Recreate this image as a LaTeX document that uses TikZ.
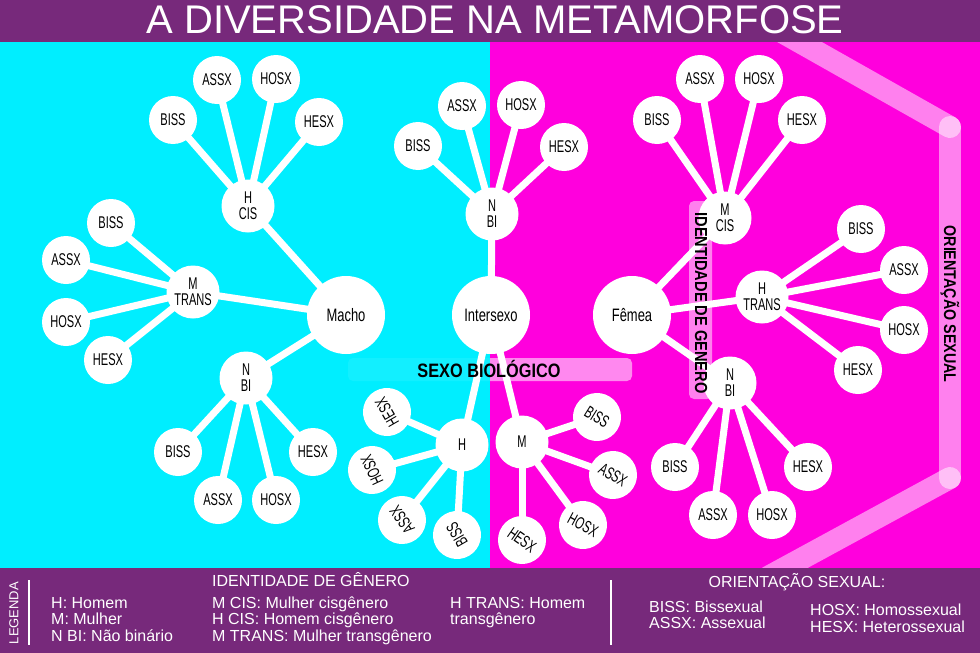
\documentclass[tikz,border=0pt]{standalone}
\usepackage{fontspec}
\setmainfont{Liberation Sans}
\newfontfamily\condf[FakeStretch=0.65]{Liberation Sans}
\newfontfamily\condbig[FakeStretch=0.72]{Liberation Sans}
\newfontfamily\boldc[FakeStretch=0.84]{Liberation Sans}
\definecolor{cy}{RGB}{0,238,255}
\definecolor{mg}{RGB}{255,0,221}
\definecolor{pu}{RGB}{119,41,123}
\pgfdeclarelayer{back}
\pgfdeclarelayer{links}
\pgfsetlayers{back,links,main}
\tikzset{
  leaf/.style={circle,fill=white,minimum size=48,inner sep=0,text=black,font=\condf\fontsize{17}{16}\selectfont},
  mid/.style={circle,fill=white,minimum size=53,inner sep=0,text=black,align=center,font=\condf\fontsize{17}{16}\selectfont},
  big/.style={circle,fill=white,minimum size=78,inner sep=0,text=black,font=\condbig\fontsize{18}{18}\selectfont},
  link/.style={white,line width=7},
  band/.style={white,opacity=0.5},
  bandtxt/.style={text=black,inner sep=0,font=\boldc\bfseries\fontsize{17.4}{18}\selectfont},
  leg/.style={text=white,anchor=base west,inner sep=0,font=\fontsize{16}{16}\selectfont},
  leghead/.style={text=white,anchor=base,inner sep=0,font=\fontsize{16}{16}\selectfont}
}
\begin{document}
\begin{tikzpicture}[x=1pt,y=-1pt]
\useasboundingbox (0,0) rectangle (980,653);
\begin{pgfonlayer}{back}
\fill[cy] (0,42) rectangle (490,568);
\fill[mg] (490,42) rectangle (980,568);
% orientation band
\draw[band,line width=22,line cap=round] (780,31) -- (950,127);
\draw[band,line width=22,line cap=round] (950,127) -- (950,478);
\draw[band,line width=22,line cap=round] (950,478) -- (768,577);
% identidade band
\fill[band,rounded corners=5] (689,201) rectangle (712,399);
% sexo biologico band
\fill[white,opacity=0.07,rounded corners=5] (348,358) rectangle (632,381);
\begin{scope}
\clip (490,0) rectangle (980,653);
\fill[band,rounded corners=5] (348,358) rectangle (632,381);
\end{scope}
\end{pgfonlayer}

% ---------- left cluster ----------
\node[big] (macho) at (346,315) {Macho};
\node[mid] (hcis) at (248,206) {H\\CIS};
\node[leaf] (hcisB) at (173,120) {BISS};
\node[leaf] (hcisA) at (217,80) {ASSX};
\node[leaf] (hcisO) at (276,79) {HOSX};
\node[leaf] (hcisE) at (319,122) {HESX};
\node[mid] (mtr) at (193,292) {M\\TRANS};
\node[leaf] (mtrB) at (111,223) {BISS};
\node[leaf] (mtrA) at (66,260) {ASSX};
\node[leaf] (mtrO) at (66,322) {HOSX};
\node[leaf] (mtrE) at (108,360) {HESX};
\node[mid] (nbiL) at (246,378) {N\\BI};
\node[leaf] (nbiLB) at (178,452) {BISS};
\node[leaf] (nbiLA) at (218,500) {ASSX};
\node[leaf] (nbiLO) at (276,500) {HOSX};
\node[leaf] (nbiLE) at (313,452) {HESX};

% ---------- center cluster ----------
\node[big] (inter) at (491,315) {Intersexo};
\node[mid] (nbiC) at (492,214) {N\\BI};
\node[leaf] (nbiCB) at (418,146) {BISS};
\node[leaf] (nbiCA) at (462,106) {ASSX};
\node[leaf] (nbiCO) at (521,105) {HOSX};
\node[leaf] (nbiCE) at (564,147) {HESX};
\node[mid] (hbot) at (462,445) {H};
\node[leaf,rotate=120] (hbE) at (387,412) {HESX};
\node[leaf,rotate=115] (hbO) at (372,470) {HOSX};
\node[leaf,rotate=125] (hbA) at (402,520) {ASSX};
\node[leaf,rotate=120] (hbB) at (457,535) {BISS};
\node[mid] (mbot) at (522,442) {M};
\node[leaf,rotate=-32] (mbB) at (597,417) {BISS};
\node[leaf,rotate=-32] (mbA) at (613,475) {ASSX};
\node[leaf,rotate=-28] (mbO) at (583,525) {HOSX};
\node[leaf,rotate=-35] (mbE) at (522,540) {HESX};

% ---------- right cluster ----------
\node[big] (femea) at (632,315) {Fêmea};
\node[mid] (mcis) at (725,218) {M\\CIS};
\node[leaf] (mcisB) at (657,120) {BISS};
\node[leaf] (mcisA) at (700,79) {ASSX};
\node[leaf] (mcisO) at (759,79) {HOSX};
\node[leaf] (mcisE) at (802,120) {HESX};
\node[mid] (htr) at (762,297) {H\\TRANS};
\node[leaf] (htrB) at (861,229) {BISS};
\node[leaf] (htrA) at (904,270) {ASSX};
\node[leaf] (htrO) at (904,330) {HOSX};
\node[leaf] (htrE) at (858,370) {HESX};
\node[mid] (nbiR) at (730,383) {N\\BI};
\node[leaf] (nbiRB) at (675,467) {BISS};
\node[leaf] (nbiRA) at (713,515) {ASSX};
\node[leaf] (nbiRO) at (772,515) {HOSX};
\node[leaf] (nbiRE) at (808,467) {HESX};

\begin{pgfonlayer}{links}
\foreach \a/\b in {macho/hcis,macho/mtr,macho/nbiL,
  hcis/hcisB,hcis/hcisA,hcis/hcisO,hcis/hcisE,
  mtr/mtrB,mtr/mtrA,mtr/mtrO,mtr/mtrE,
  nbiL/nbiLB,nbiL/nbiLA,nbiL/nbiLO,nbiL/nbiLE,
  inter/nbiC,inter/hbot,inter/mbot,
  nbiC/nbiCB,nbiC/nbiCA,nbiC/nbiCO,nbiC/nbiCE,
  hbot/hbE,hbot/hbO,hbot/hbA,hbot/hbB,
  mbot/mbB,mbot/mbA,mbot/mbO,mbot/mbE,
  femea/mcis,femea/htr,femea/nbiR,
  mcis/mcisB,mcis/mcisA,mcis/mcisO,mcis/mcisE,
  htr/htrB,htr/htrA,htr/htrO,htr/htrE,
  nbiR/nbiRB,nbiR/nbiRA,nbiR/nbiRO,nbiR/nbiRE}
  \draw[link] (\a.center) -- (\b.center);
\end{pgfonlayer}

% band texts
\node[bandtxt,font=\boldc\bfseries\fontsize{19.4}{19}\selectfont] (sexo) at (489,369) {SEXO BIOLÓGICO};
\node[bandtxt,rotate=-90] (idg) at (701,303) {IDENTIDADE DE GENERO};
\node[bandtxt,font=\boldc\bfseries\fontsize{17}{18}\selectfont,rotate=-90] (ors) at (950,304) {ORIENTAÇÃO SEXUAL};

% title band
\fill[pu] (0,0) rectangle (980,42);
\node[text=white,anchor=base,inner sep=0,font=\fontsize{40}{40}\selectfont] (title) at (495,34) {A DIVERSIDADE NA METAMORFOSE};

% legend band
\fill[pu] (0,568) rectangle (980,653);
\node[text=white,inner sep=0,rotate=90,font=\fontsize{13}{13}\selectfont] (legenda) at (14,613) {LEGENDA};
\coordinate (l1a) at (29,580); \coordinate (l1b) at (29,645);
\draw[white,line width=1.5] (l1a) -- (l1b);
\coordinate (l2a) at (611,580); \coordinate (l2b) at (611,645);
\draw[white,line width=1.5] (l2a) -- (l2b);
\node[leg] (lh) at (51,608) {H: Homem};
\node[leg] (lm) at (51,624) {M: Mulher};
\node[leg] (ln) at (51,641) {N BI: Não binário};
\node[leg] (ig) at (212,586) {IDENTIDADE DE GÊNERO};
\node[leg] (lmc) at (212,608) {M CIS: Mulher cisgênero};
\node[leg] (lhc) at (212,624) {H CIS: Homem cisgênero};
\node[leg] (lmt) at (212,641) {M TRANS: Mulher transgênero};
\node[leg] (lht1) at (450,608) {H TRANS: Homem};
\node[leg] (lht2) at (450,624) {transgênero};
\node[leghead] (os) at (797,587) {ORIENTAÇÃO SEXUAL:};
\node[leg] (lb) at (649,612) {BISS: Bissexual};
\node[leg] (la) at (649,628) {ASSX: Assexual};
\node[leg] (lo) at (810,615) {HOSX: Homossexual};
\node[leg] (le) at (810,632) {HESX: Heterossexual};
\end{tikzpicture}
\end{document}
